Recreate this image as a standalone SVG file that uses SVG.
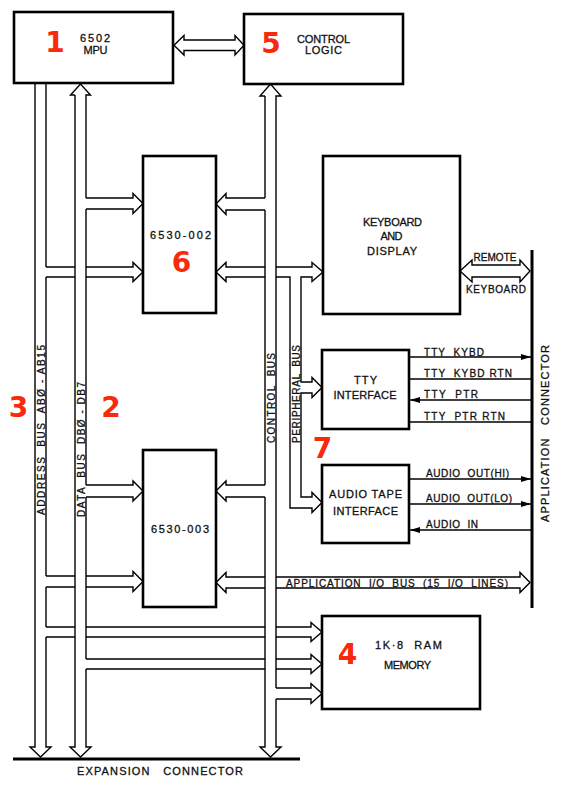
<svg xmlns="http://www.w3.org/2000/svg" width="562" height="788" viewBox="0 0 562 788">
<style>
.box{fill:#fff;stroke:#000;stroke-width:2.6}
.bus{fill:none;stroke:#000;stroke-width:1.4;stroke-linejoin:miter}
.sig{fill:none;stroke:#000;stroke-width:1.3}
.conn{fill:none;stroke:#000;stroke-width:3}
text{font-family:"Liberation Sans",Arial,sans-serif;fill:#111;stroke:#111;stroke-width:0.3}
.t{font-size:11px}
.s{font-size:10px}
.v{font-size:10px}
.num{font-family:"DejaVu Sans",sans-serif;font-weight:bold;font-size:28px;fill:#f82a0c;stroke:none}
</style>
<defs>
<marker id="ah" viewBox="0 0 10 6" refX="10" refY="3" markerWidth="10" markerHeight="6" markerUnits="userSpaceOnUse" orient="auto">
<path d="M0,0 L10,3 L0,6 Z" fill="#000"/>
</marker>
</defs>
<rect width="562" height="788" fill="#fff"/>

<g id="connectors">
<!-- address bus -->
<path class="bus" d="M35,83 V747 H30 L40.5,757 L51,747 H46 V637 M46,627 V587 M46,576 V277 M46,267 V83"/>
<path class="bus" d="M46,267 H75 M86,267 H133 V262.5 L143,272 L133,281.5 V277 H86 M75,277 H46"/>
<path class="bus" d="M46,576 H75 M86,576 H133 V571.5 L143,581.5 L133,591.5 V587 H86 M75,587 H46"/>
<path class="bus" d="M46,627 H75 M86,627 H265 M276,627 H311 V622.5 L322,632 L311,641.5 V637 H276 M265,637 H86 M75,637 H46"/>
<!-- data bus -->
<path class="bus" d="M75,95 V747 H70 L80.5,757 L91,747 H86 V669 M86,659 V497 M86,485 V209 M86,198 V95 H90.5 L80.5,84 L70.5,95 H75"/>
<path class="bus" d="M86,198 H133 V193.5 L143,203.5 L133,213.5 V209 H86"/>
<path class="bus" d="M86,485 H133 V481 L143,491 L133,501 V497 H86"/>
<path class="bus" d="M86,659 H265 M276,659 H311 V654.5 L322,664 L311,673.5 V669 H276 M265,669 H86"/>
<!-- control bus -->
<path class="bus" d="M265,96 V198 M265,210 V485 M265,497 V747 H260 L270.5,757 L281,747 H276 V699 M276,688 V96 H281 L270.5,84 L260,96 H265"/>
<path class="bus" d="M265,198 H226 V193.5 L216,204 L226,214.5 V210 H265"/>
<path class="bus" d="M265,485 H226 V481 L216,491 L226,501 V497 H265"/>
<path class="bus" d="M276,688 H311 V683.5 L322,693.5 L311,703.5 V699 H276"/>
<!-- 6530-002 to keyboard and peripheral bus -->
<path class="bus" d="M265,267 H226 V262.5 L216,272 L226,281.5 V277 H265 M276,267 H312 V262.5 L323,272 L312,281.5 V277 H301 V382 H312 V377.5 L322,387.5 L312,397.5 V393 H301 V497 H312 V492.5 L322,502.5 L312,512.5 V508 H290 V277 H276"/>
<!-- application I/O bus -->
<path class="bus" d="M265,577 H226 V572.5 L216,582.5 L226,592.5 V588 H265 M276,577 H520 V572.5 L530,582.5 L520,592.5 V588 H276"/>
<!-- MPU <-> control logic -->
<path class="bus" d="M184,40 H235 V35.5 L244,45.25 L235,55 V50.5 H184 V55 L174,45.25 L184,35.5 Z"/>
<!-- remote keyboard -->
<path class="bus" d="M472,265 H520 V260 L530,271 L520,282 V277 H472 V282 L460,271 L472,260 Z"/>
<!-- signal lines -->
<path class="sig" d="M409,357 H531" marker-end="url(#ah)"/>
<path class="sig" d="M409,379 H532"/>
<path class="sig" d="M532,400 H410" marker-end="url(#ah)"/>
<path class="sig" d="M409,422 H532"/>
<path class="sig" d="M409,479 H531" marker-end="url(#ah)"/>
<path class="sig" d="M409,504 H531" marker-end="url(#ah)"/>
<path class="sig" d="M532,530 H410" marker-end="url(#ah)"/>
<!-- connectors -->
<path class="conn" d="M532,250 V608"/>
<path class="conn" d="M13,759 H300"/>
<!-- labels -->
<g id="connector-labels">
<text class="v" xml:space="preserve" transform="translate(44.5,430) rotate(-90)" text-anchor="middle" textLength="170" lengthAdjust="spacing">ADDRESS  BUS  ABØ - AB15</text>
<text class="v" xml:space="preserve" transform="translate(84.5,449.5) rotate(-90)" text-anchor="middle" textLength="135" lengthAdjust="spacing">DATA  BUS  DBØ - DB7</text>
<text class="v" xml:space="preserve" transform="translate(275,398) rotate(-90)" text-anchor="middle" textLength="90" lengthAdjust="spacing">CONTROL  BUS</text>
<text class="v" xml:space="preserve" transform="translate(300,394) rotate(-90)" text-anchor="middle" textLength="98" lengthAdjust="spacing">PERIPHERAL  BUS</text>
<text class="t" xml:space="preserve" transform="translate(548.5,433.5) rotate(-90)" text-anchor="middle" textLength="177" lengthAdjust="spacing">APPLICATION   CONNECTOR</text>
<text class="t" xml:space="preserve" x="160" y="775" text-anchor="middle" textLength="166" lengthAdjust="spacing">EXPANSION   CONNECTOR</text>
<text class="s" xml:space="preserve" x="495" y="261" text-anchor="middle" textLength="43" lengthAdjust="spacing">REMOTE</text>
<text class="s" xml:space="preserve" x="496" y="293" text-anchor="middle" textLength="60" lengthAdjust="spacing">KEYBOARD</text>
<text class="s" xml:space="preserve" x="424" y="356" textLength="60" lengthAdjust="spacing">TTY  KYBD</text>
<text class="s" xml:space="preserve" x="424" y="377" textLength="88" lengthAdjust="spacing">TTY  KYBD RTN</text>
<text class="s" xml:space="preserve" x="424" y="398" textLength="54" lengthAdjust="spacing">TTY  PTR</text>
<text class="s" xml:space="preserve" x="424" y="419.5" textLength="81" lengthAdjust="spacing">TTY  PTR RTN</text>
<text class="s" xml:space="preserve" x="426" y="477" textLength="83" lengthAdjust="spacing">AUDIO  OUT(HI)</text>
<text class="s" xml:space="preserve" x="426" y="502" textLength="86" lengthAdjust="spacing">AUDIO  OUT(LO)</text>
<text class="s" xml:space="preserve" x="426" y="527.5" textLength="52" lengthAdjust="spacing">AUDIO  IN</text>
<text class="s" xml:space="preserve" x="286" y="587" textLength="222" lengthAdjust="spacing">APPLICATION  I/O  BUS  (15  I/O  LINES)</text>
<text class="num" x="18.5" y="417" text-anchor="middle">3</text>
<text class="num" x="111" y="417" text-anchor="middle">2</text>
</g>
</g>

<g id="mpu">
<rect class="box" x="14" y="12" width="159" height="71"/>
<text class="num" x="55" y="52" text-anchor="middle">1</text>
<text class="t" x="95" y="42" text-anchor="middle" textLength="30" lengthAdjust="spacing">6502</text>
<text class="t" x="95.5" y="53.5" text-anchor="middle" textLength="24" lengthAdjust="spacing">MPU</text>
</g>

<g id="control-logic">
<rect class="box" x="244" y="14" width="159" height="70"/>
<text class="num" x="271" y="53" text-anchor="middle">5</text>
<text class="t" x="323.5" y="43" text-anchor="middle" textLength="53" lengthAdjust="spacing">CONTROL</text>
<text class="t" x="323.5" y="54" text-anchor="middle" textLength="37" lengthAdjust="spacing">LOGIC</text>
</g>

<g id="riot-002">
<rect class="box" x="143" y="156" width="73" height="157"/>
<text class="t" x="180.5" y="239" text-anchor="middle" textLength="61" lengthAdjust="spacing">6530-002</text>
<text class="num" x="181.5" y="272" text-anchor="middle">6</text>
</g>

<g id="keyboard-display">
<rect class="box" x="323" y="156" width="137" height="158"/>
<text class="t" x="392.5" y="226" text-anchor="middle" textLength="59" lengthAdjust="spacing">KEYBOARD</text>
<text class="t" x="391.5" y="240" text-anchor="middle" textLength="22" lengthAdjust="spacing">AND</text>
<text class="t" x="392" y="255" text-anchor="middle" textLength="50" lengthAdjust="spacing">DISPLAY</text>
</g>

<g id="tty-interface">
<rect class="box" x="322" y="350" width="87" height="79"/>
<text class="t" x="365.5" y="384" text-anchor="middle" textLength="23" lengthAdjust="spacing">TTY</text>
<text class="t" x="365" y="399" text-anchor="middle" textLength="63" lengthAdjust="spacing">INTERFACE</text>
</g>

<g id="audio-tape-interface">
<rect class="box" x="322" y="465" width="87" height="78"/>
<text class="num" x="322.5" y="458" text-anchor="middle">7</text>
<text class="t" x="365.5" y="498" text-anchor="middle" textLength="73" lengthAdjust="spacing">AUDIO TAPE</text>
<text class="t" x="365.5" y="515" text-anchor="middle" textLength="65" lengthAdjust="spacing">INTERFACE</text>
</g>

<g id="riot-003">
<rect class="box" x="143" y="450" width="73" height="157"/>
<text class="t" x="180" y="532.5" text-anchor="middle" textLength="58" lengthAdjust="spacing">6530-003</text>
</g>

<g id="ram-memory">
<rect class="box" x="322" y="616" width="158" height="93"/>
<text class="num" x="347.5" y="664" text-anchor="middle">4</text>
<text class="t" xml:space="preserve" x="408.5" y="649" text-anchor="middle" textLength="67" lengthAdjust="spacing">1K·8  RAM</text>
<text class="t" x="407.5" y="669" text-anchor="middle" textLength="47" lengthAdjust="spacing">MEMORY</text>
</g>
</svg>
